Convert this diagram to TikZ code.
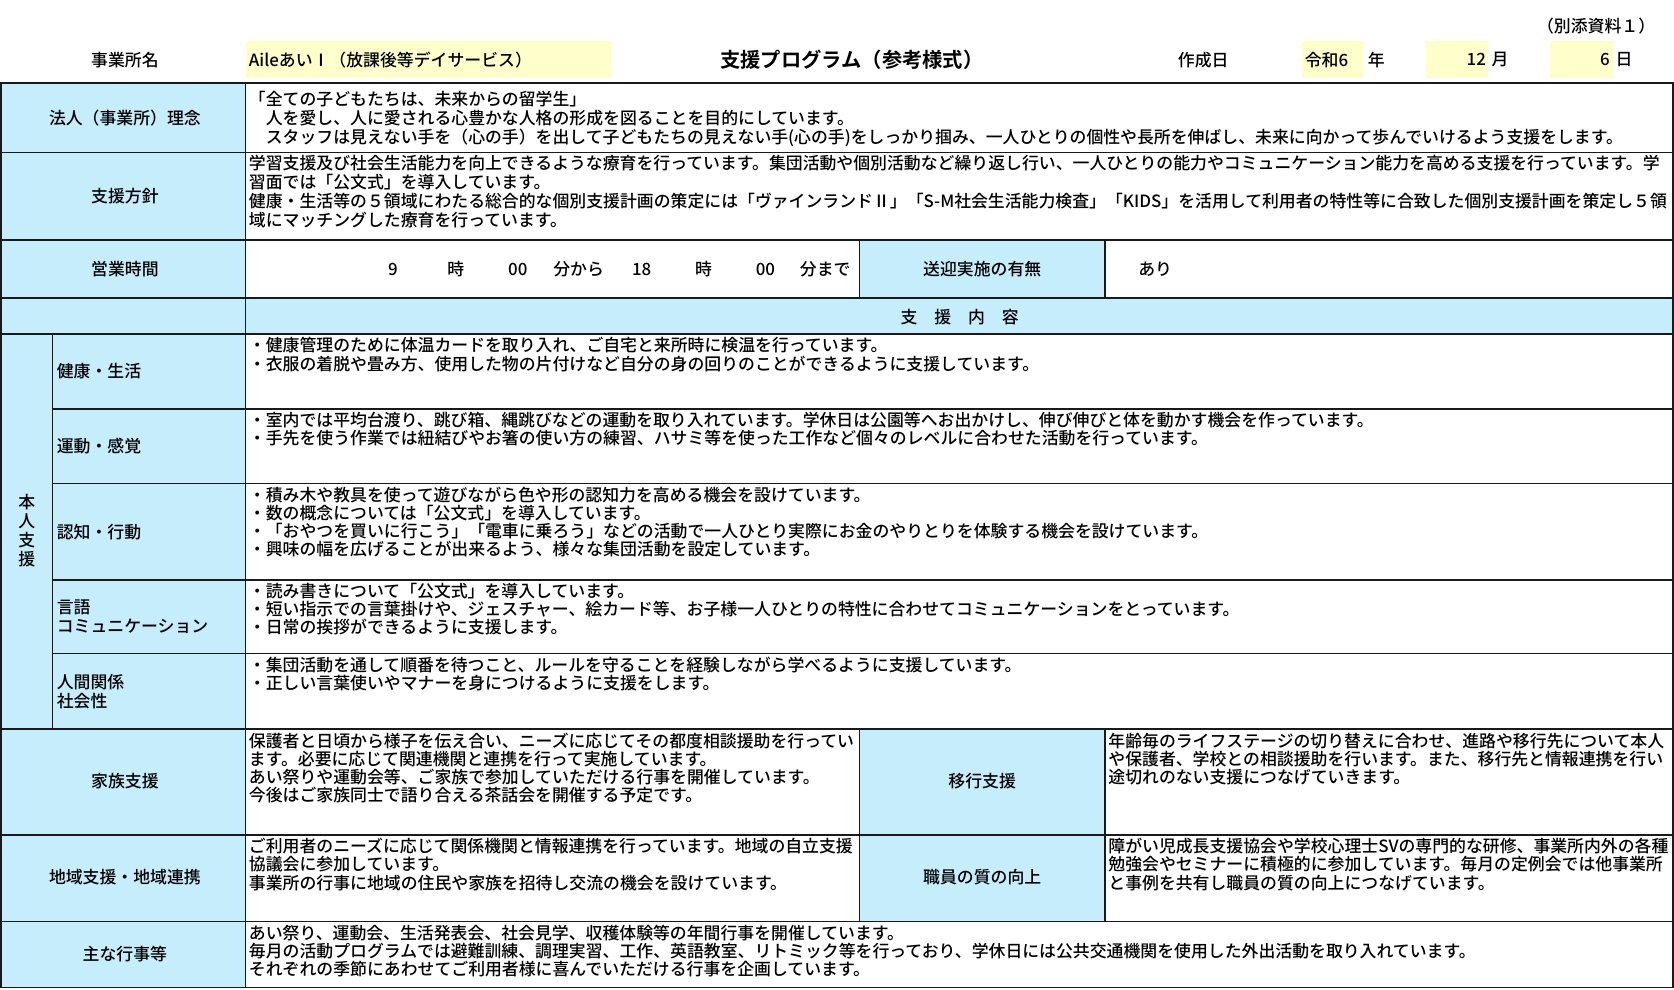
\documentclass[tikz,border=0pt]{standalone}
\usepackage{fontspec}
\setmainfont{Noto Sans CJK JP}[UprightFont={* Medium},BoldFont={* Bold}]
\definecolor{cellblue}{HTML}{C5EDFC}
\definecolor{cellyel}{HTML}{FFFFCC}
\definecolor{rulec}{HTML}{1A1A1A}
\newcommand\myst{\rule{0pt}{14pt}}
\begin{document}
\begin{tikzpicture}[x=1pt,y=-1pt,
  font=\fontsize{15.8}{17}\selectfont,
  lab/.style={inner sep=0pt, anchor=center, align=center},
  sublab/.style={inner sep=0pt, anchor=west, align=left, font=\fontsize{15.8}{18}\selectfont},
  body/.style={inner sep=0pt, anchor=north west, align=left},
  wide/.style={font=\fontsize{15.8}{17.8}\selectfont},
  hrule/.style={draw=rulec, line width=1.5pt},
  vrule/.style={draw=rulec, line width=1pt},
  yelbox/.style={fill=cellyel, draw=none},
  bluebox/.style={fill=cellblue, draw=none}]
\useasboundingbox (0,0) rectangle (1568,927);
\fill[white] (0,0) rectangle (1568,927);

% ---- header ----
\fill[yelbox] (230,38) rectangle (572,73);
\fill[yelbox] (1220,38) rectangle (1277,73);
\fill[yelbox] (1336,38) rectangle (1394,73);
\fill[yelbox] (1452,38) rectangle (1511,73);
\node[lab] (annex) at (1495,24) {（別添資料１）};
\node[lab] (jname) at (117,56) {事業所名};
\node[inner sep=0pt, anchor=west] (jval) at (233,56) {AileあいⅠ（放課後等デイサービス）};
\node[lab, font=\fontsize{19}{22}\selectfont\bfseries] (title) at (798,56) {支援プログラム（参考様式）};
\node[lab] (made) at (1127,56) {作成日};
\node[inner sep=0pt, anchor=west] (era) at (1222,56) {令和6};
\node[inner sep=0pt, anchor=west] (yr) at (1281,56) {年};
\node[inner sep=0pt, anchor=east] (mval) at (1392,56) {12};
\node[inner sep=0pt, anchor=west] (mo) at (1397,56) {月};
\node[inner sep=0pt, anchor=east] (dval) at (1508,56) {6};
\node[inner sep=0pt, anchor=west] (dy) at (1513,56) {日};

% ---- fills ----
\fill[bluebox] (1,78) rectangle (230,925);
\fill[bluebox] (230,279) rectangle (1567,313);
\fill[bluebox] (805,225) rectangle (1035,279);
\fill[bluebox] (805,683) rectangle (1035,863);

% ---- rules ----
\draw[hrule] (1,78) rectangle (1567,925);
\foreach \yy in {143,225,279,313,683,782,863}
  \draw[hrule] (1,\yy) -- (1567,\yy);
\foreach \yy in {383,453,543,612}
  \draw[hrule] (49,\yy) -- (1567,\yy);
\draw[vrule] (230,78) -- (230,925);
\draw[vrule] (49,313) -- (49,683);
\draw[vrule] (805,225) -- (805,279);
\draw[vrule] (1035,225) -- (1035,279);
\draw[vrule] (805,683) -- (805,863);
\draw[vrule] (1035,683) -- (1035,863);

% ---- labels ----
\node[lab] (l1) at (117,110.5) {法人（事業所）理念};
\node[lab] (l2) at (117,184) {支援方針};
\node[lab] (l3) at (117,252) {営業時間};
\node[lab] (l4) at (920,252) {送迎実施の有無};
\node[lab] (l5) at (899,297) {支　援　内　容};
\node[lab, font=\fontsize{15.8}{18}\selectfont] (l6) at (25,497) {本\\人\\支\\援};
\node[sublab] (s1) at (53,348) {健康・生活};
\node[sublab] (s2) at (53,418) {運動・感覚};
\node[sublab] (s3) at (53,498) {認知・行動};
\node[sublab] (s4) at (53,577.5) {言語\\コミュニケーション};
\node[sublab] (s5) at (53,647.5) {人間関係\\社会性};
\node[lab] (l7) at (117,732) {家族支援};
\node[lab] (l8) at (920,732) {移行支援};
\node[lab] (l9) at (117,822) {地域支援・地域連携};
\node[lab] (l10) at (920,822) {職員の質の向上};
\node[lab] (l11) at (117,894) {主な行事等};

% ---- business hours ----
\node[lab] (h1) at (368,252) {9};
\node[lab] (h2) at (427,252) {時};
\node[lab] (h3) at (485,252) {00};
\node[lab] (h4) at (542,252) {分から};
\node[lab] (h5) at (601,252) {18};
\node[lab] (h6) at (659,252) {時};
\node[lab] (h7) at (717,252) {00};
\node[lab] (h8) at (773,252) {分まで};
\node[inner sep=0pt, anchor=west] (pick) at (1066,252) {あり};

% ---- body texts ----
\node[body, wide] (b1) at (233,85) {\myst「全ての子どもたちは、未来からの留学生」\\
　人を愛し、人に愛される心豊かな人格の形成を図ることを目的にしています。\\
　スタッフは見えない手を（心の手）を出して子どもたちの見えない手(心の手)をしっかり掴み、一人ひとりの個性や長所を伸ばし、未来に向かって歩んでいけるよう支援をします。};

\node[body, wide] (b2) at (233,144.5) {\myst 学習支援及び社会生活能力を向上できるような療育を行っています。集団活動や個別活動など繰り返し行い、一人ひとりの能力やコミュニケーション能力を高める支援を行っています。学\\
習面では「公文式」を導入しています。\\
健康・生活等の５領域にわたる総合的な個別支援計画の策定には「ヴァインランドⅡ」「S-M社会生活能力検査」「KIDS」を活用して利用者の特性等に合致した個別支援計画を策定し５領\\
域にマッチングした療育を行っています。};

\node[body] (b3) at (233,315.5) {\myst・健康管理のために体温カードを取り入れ、ご自宅と来所時に検温を行っています。\\
・衣服の着脱や畳み方、使用した物の片付けなど自分の身の回りのことができるように支援しています。};

\node[body] (b4) at (233,385.5) {\myst・室内では平均台渡り、跳び箱、縄跳びなどの運動を取り入れています。学休日は公園等へお出かけし、伸び伸びと体を動かす機会を作っています。\\
・手先を使う作業では紐結びやお箸の使い方の練習、ハサミ等を使った工作など個々のレベルに合わせた活動を行っています。};

\node[body] (b5) at (233,455.5) {\myst・積み木や教具を使って遊びながら色や形の認知力を高める機会を設けています。\\
・数の概念については「公文式」を導入しています。\\
・「おやつを買いに行こう」「電車に乗ろう」などの活動で一人ひとり実際にお金のやりとりを体験する機会を設けています。\\
・興味の幅を広げることが出来るよう、様々な集団活動を設定しています。};

\node[body] (b6) at (233,545.5) {\myst・読み書きについて「公文式」を導入しています。\\
・短い指示での言葉掛けや、ジェスチャー、絵カード等、お子様一人ひとりの特性に合わせてコミュニケーションをとっています。\\
・日常の挨拶ができるように支援します。};

\node[body] (b7) at (233,614.5) {\myst・集団活動を通して順番を待つこと、ルールを守ることを経験しながら学べるように支援しています。\\
・正しい言葉使いやマナーを身につけるように支援をします。};

\node[body] (b8) at (233,685.5) {\myst 保護者と日頃から様子を伝え合い、ニーズに応じてその都度相談援助を行ってい\\
ます。必要に応じて関連機関と連携を行って実施しています。\\
あい祭りや運動会等、ご家族で参加していただける行事を開催しています。\\
今後はご家族同士で語り合える茶話会を開催する予定です。};

\node[body] (b9) at (1038,685.5) {\myst 年齢毎のライフステージの切り替えに合わせ、進路や移行先について本人\\
や保護者、学校との相談援助を行います。また、移行先と情報連携を行い\\
途切れのない支援につなげていきます。};

\node[body] (b10) at (233,784.5) {\myst ご利用者のニーズに応じて関係機関と情報連携を行っています。地域の自立支援\\
協議会に参加しています。\\
事業所の行事に地域の住民や家族を招待し交流の機会を設けています。};

\node[body] (b11) at (1038,784.5) {\myst 障がい児成長支援協会や学校心理士SVの専門的な研修、事業所内外の各種\\
勉強会やセミナーに積極的に参加しています。毎月の定例会では他事業所\\
と事例を共有し職員の質の向上につなげています。};

\node[body] (b12) at (233,865.5) {\myst あい祭り、運動会、生活発表会、社会見学、収穫体験等の年間行事を開催しています。\\
毎月の活動プログラムでは避難訓練、調理実習、工作、英語教室、リトミック等を行っており、学休日には公共交通機関を使用した外出活動を取り入れています。\\
それぞれの季節にあわせてご利用者様に喜んでいただける行事を企画しています。};
\end{tikzpicture}
\end{document}
